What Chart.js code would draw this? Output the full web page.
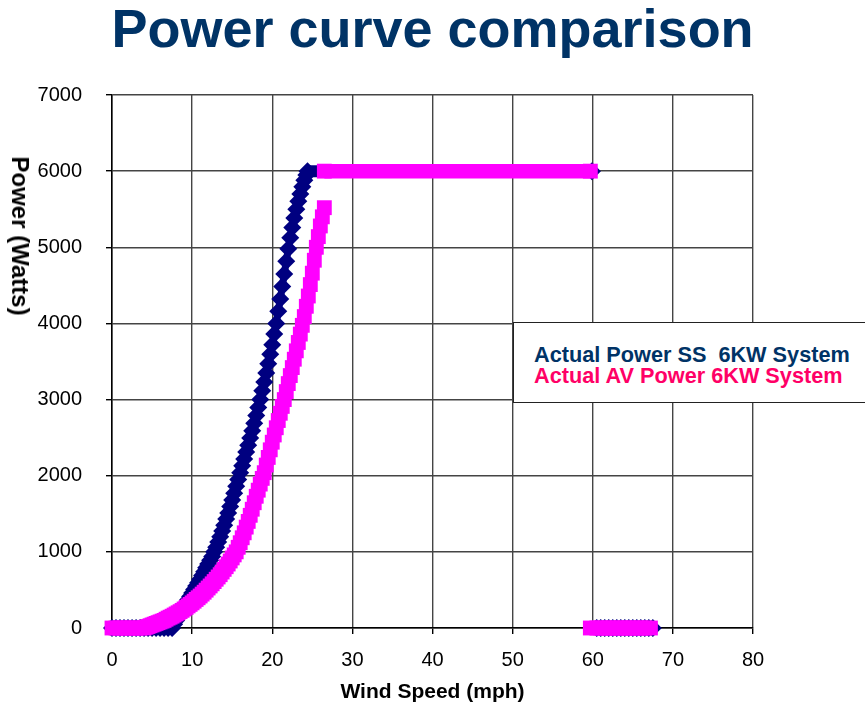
<!DOCTYPE html>
<html>
<head>
<meta charset="utf-8">
<title>Power curve comparison</title>
<script src="https://cdn.jsdelivr.net/npm/chart.js@4.4.1/dist/chart.umd.min.js"></script>
<style>
    body { margin: 0; background: #fff; }
    #cadre { position: relative; width: 865px; height: 709px; overflow: hidden; font-family: Arial, "Liberation Sans", sans-serif; }
    #canvasCourbes { position: absolute; left: 0; top: 0; }
    #titre { position: absolute; left: 0; top: 1px; width: 865px; text-align: center; font-size: 54px; line-height: 54px; font-weight: bold; color: #003366; }
    #titreY { position: absolute; left: 20px; top: 236px; transform: translate(-50%, -50%) rotate(90deg); font-size: 24px; font-weight: bold; white-space: nowrap; color: #000; }
    #legende { position: absolute; left: 513px; top: 322px; width: 400px; height: 79px; border: 1.5px solid #222; background: #fff; }
    .ligneLegende { position: absolute; left: 534px; font-size: 21.7px; line-height: 22px; font-weight: bold; white-space: pre; }
</style>
</head>
<body>
<div id="cadre">
    <canvas id="canvasCourbes" width="865" height="709"></canvas>
    <div id="titre">Power curve comparison</div>
    <div id="titreY">Power (Watts)</div>
    <div id="legende"></div>
    <div class="ligneLegende" id="legendeSS" style="top:344px; color:#003366"></div>
    <div class="ligneLegende" id="legendeAV" style="top:365px; color:#ff0066"></div>
</div>
<script>
// noms des séries
const nomSS = "Actual Power SS  6KW System"
const nomAV = "Actual AV Power 6KW System"

// vitesse du vent (mph) et puissance (W) de l'éolienne SS
// null = coupure de la courbe (arrêt à 60 mph)
const vitesseSS = [0, 0.5, 1, 1.5, 2, 2.5, 3, 3.5, 4, 4.5, 5, 5.5, 6, 6.5, 7, 7.5, 7.75,
    8, 8.25, 8.5, 8.75, 9, 9.25, 9.5, 9.75, 10, 10.25, 10.5, 10.75, 11, 11.25, 11.5, 11.75,
    12, 12.25, 12.5, 12.75, 13, 13.25, 13.5, 13.75, 14, 14.25, 14.5, 14.75, 15, 15.25, 15.5, 15.75,
    16, 16.25, 16.5, 16.75, 17, 17.25, 17.5, 17.75, 18, 18.25, 18.5, 18.75, 19, 19.25, 19.5, 19.75,
    20, 20.25, 20.5, 20.75, 21, 21.25, 21.5, 21.75, 22, 22.25, 22.5, 22.75, 23, 23.25, 23.5, 23.75,
    24, 24.25, 24.4, 59.9, 60,
    60.5, 61, 61.5, 62, 62.5, 63, 63.5, 64, 64.5, 65, 65.5, 66, 66.5, 67, 67.5]
const puissanceSS = [0, 0, 0, 0, 0, 0, 0, 0, 0, 0, 0, 0, 0, 0, 0, 0, 50,
    100, 145, 190, 235, 280, 325, 370, 415, 460, 505, 550, 595, 640, 690, 740, 790,
    840, 890, 940, 1000, 1060, 1130, 1200, 1275, 1350, 1430, 1510, 1595, 1680, 1770, 1860, 1950,
    2040, 2130, 2220, 2310, 2400, 2495, 2590, 2690, 2790, 2895, 3000, 3115, 3230, 3350, 3470, 3595,
    3720, 3860, 4000, 4160, 4320, 4485, 4650, 4815, 4980, 5125, 5260, 5385, 5500, 5605, 5700, 5795,
    5880, 5950, 6000, 6000, null,
    0, 0, 0, 0, 0, 0, 0, 0, 0, 0, 0, 0, 0, 0, 0]

// vitesse du vent (mph) et puissance (W) de l'éolienne AV
const vitesseAV = [0, 0.5, 1, 1.5, 2, 2.5, 3, 3.5,
    4, 4.25, 4.5, 4.75, 5, 5.25, 5.5, 5.75, 6, 6.25, 6.5, 6.75, 7, 7.25, 7.5, 7.75,
    8, 8.25, 8.5, 8.75, 9, 9.25, 9.5, 9.75, 10, 10.25, 10.5, 10.75, 11, 11.25, 11.5, 11.75,
    12, 12.25, 12.5, 12.75, 13, 13.25, 13.5, 13.75, 14, 14.25, 14.5, 14.75, 15, 15.25, 15.5, 15.75,
    16, 16.25, 16.5, 16.75, 17, 17.25, 17.5, 17.75, 18, 18.25, 18.5, 18.75, 19, 19.25, 19.5, 19.75,
    20, 20.25, 20.5, 20.75, 21, 21.25, 21.5, 21.75, 22, 22.25, 22.5, 22.75, 23, 23.25, 23.5, 23.75,
    24, 24.25, 24.5, 24.75, 25, 25.25, 25.5, 25.75, 26, 26.25, 26.5,
    26.5, 26.5, 59.7, 59.7,
    59.7, 60.5, 61, 61.5, 62, 62.5, 63, 63.5, 64, 64.5, 65, 65.5, 66, 66.5, 67.2]
const puissanceAV = [0, 0, 0, 0, 0, 0, 0, 0,
    0, 10, 20, 30, 40, 50, 60, 70, 80, 90, 100, 115, 130, 142, 155, 170,
    185, 200, 215, 232, 250, 270, 290, 310, 330, 352, 375, 397, 420, 445, 470, 497,
    525, 552, 580, 610, 640, 670, 700, 735, 770, 805, 840, 880, 920, 960, 1000, 1060,
    1120, 1185, 1250, 1325, 1400, 1480, 1560, 1645, 1730, 1810, 1890, 1965, 2040, 2140, 2240, 2340,
    2440, 2535, 2630, 2725, 2820, 2910, 3000, 3105, 3210, 3315, 3420, 3530, 3640, 3750, 3860, 3975,
    4090, 4225, 4360, 4510, 4660, 4830, 5000, 5140, 5280, 5400, 5520,
    null, 6000, 6000, null,
    0, 0, 0, 0, 0, 0, 0, 0, 0, 0, 0, 0, 0, 0, 0]

// ticks des axes
const ticksX = [0, 10, 20, 30, 40, 50, 60, 70, 80]
const ticksY = [0, 1000, 2000, 3000, 4000, 5000, 6000, 7000]

document.getElementById("legendeSS").textContent = nomSS
document.getElementById("legendeAV").textContent = nomAV

function versPoints(vitesses, puissances) {
    let points = []
    for (let i = 0; i < vitesses.length; i++) {
        points.push({x: vitesses[i], y: puissances[i]})
    }
    return points
}

// sur les paliers le trait fait la largeur des marqueurs, dans la montée il reste fin
function epaisseur(plat, pente) {
    return function(ctx) {
        return ctx.p0.parsed.y === ctx.p1.parsed.y ? plat : pente
    }
}

const policeAxe = {family: "Arial, 'Liberation Sans', sans-serif", size: 20}

let canvas = document.getElementById("canvasCourbes")
new Chart(canvas, {
    type: 'scatter',
    data: {
        datasets: [
            {
                label: nomAV,
                data: versPoints(vitesseAV, puissanceAV),
                order: 0,
                showLine: true,
                spanGaps: false,
                borderColor: "#ff00ff",
                borderWidth: 14,
                segment: {borderWidth: epaisseur(14.5, 8)},
                borderCapStyle: 'butt',
                pointStyle: 'rect',
                pointRadius: 10.5,
                pointBackgroundColor: "#ff00ff",
                pointBorderWidth: 0,
                clip: false
            },
            {
                label: nomSS,
                data: versPoints(vitesseSS, puissanceSS),
                order: 1,
                showLine: true,
                spanGaps: false,
                borderColor: "#000080",
                borderWidth: 11,
                segment: {borderWidth: epaisseur(12, 7)},
                borderCapStyle: 'butt',
                pointStyle: 'rectRot',
                pointRadius: 9,
                pointBackgroundColor: "#000080",
                pointBorderWidth: 0,
                clip: false
            }
        ]
    },
    options: {
        responsive: false,
        animation: false,
        layout: {
            padding: {top: 95, right: 112, bottom: 0, left: 0}
        },
        plugins: {
            legend: {display: false},
            tooltip: {enabled: false}
        },
        scales: {
            x: {
                type: 'linear',
                min: ticksX[0],
                max: ticksX[ticksX.length - 1],
                afterBuildTicks: function(axe) {
                    axe.ticks = ticksX.map(v => ({value: v}))
                },
                afterFit: function(axe) {
                    axe.height = 81
                },
                ticks: {
                    color: "#000",
                    font: policeAxe,
                    padding: 14,
                    maxRotation: 0,
                    callback: function(value) {
                        return String(value)
                    }
                },
                grid: {
                    color: "#444",
                    lineWidth: 1.4,
                    tickLength: 6,
                    tickColor: "#000"
                },
                border: {color: "#000", width: 1.5},
                title: {
                    display: true,
                    text: 'Wind Speed (mph)',
                    color: "#000",
                    font: {family: "Arial, 'Liberation Sans', sans-serif", size: 21, weight: 'bold', lineHeight: 1.2},
                    padding: {top: 0, bottom: 4}
                }
            },
            y: {
                type: 'linear',
                min: ticksY[0],
                max: ticksY[ticksY.length - 1],
                afterBuildTicks: function(axe) {
                    axe.ticks = ticksY.map(v => ({value: v}))
                },
                afterFit: function(axe) {
                    axe.width = 112
                },
                ticks: {
                    color: "#000",
                    font: policeAxe,
                    padding: 24,
                    callback: function(value) {
                        return String(value)
                    }
                },
                grid: {
                    color: "#444",
                    lineWidth: 1.4,
                    tickLength: 6,
                    tickColor: "#000"
                },
                border: {color: "#000", width: 1.5}
            }
        }
    }
})
</script>
</body>
</html>
